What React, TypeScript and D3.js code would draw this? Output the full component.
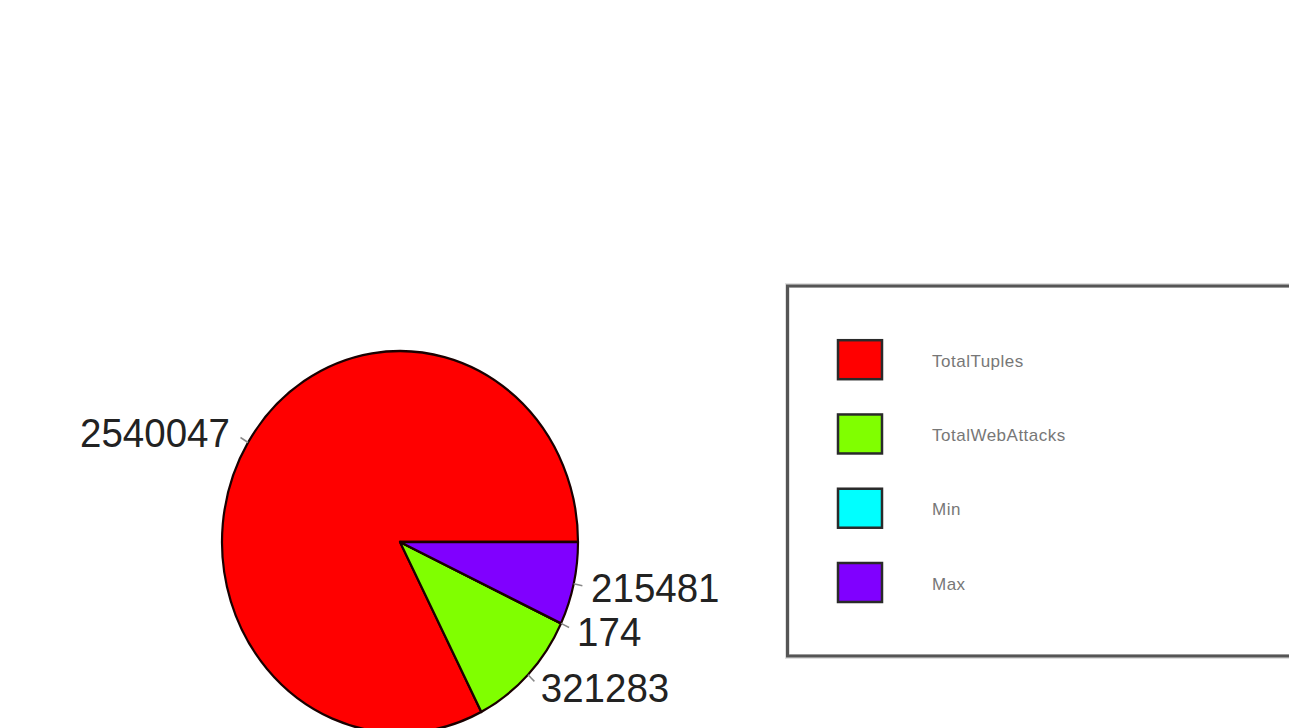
import React from "react";
import * as d3 from "d3";

const categories = ["TotalTuples", "TotalWebAttacks", "Min", "Max"];
const values = [2540047, 321283, 174, 215481];
const colors = ["#FF0000", "#80FF00", "#00FFFF", "#8000FF"];

const W = 1289;
const H = 728;
const cx = 400;
const cy = 542;
const r = 178;
const yStretch = 191 / 178;

export default function App() {
  const pie = d3
    .pie<number>()
    .sort(null)
    .startAngle(Math.PI / 2)
    .endAngle(Math.PI / 2 - 2 * Math.PI);
  const arcs = pie(values);
  const arcGen = d3.arc<d3.PieArcDatum<number>>().innerRadius(0).outerRadius(r);

  const legendY = d3
    .scalePoint<string>()
    .domain(categories)
    .range([359.7, 582.5]);

  return (
    <svg
      width={W}
      height={H}
      style={{ position: "absolute", left: 0, top: 0, background: "#fff" }}
      fontFamily="'Liberation Sans', Arial, sans-serif"
    >
      <g transform={`translate(${cx},${cy}) scale(1,${yStretch})`}>
        {arcs.map((a, i) => (
          <path
            key={i}
            d={arcGen(a) || ""}
            fill={colors[i]}
            stroke="#1a0000"
            strokeWidth={2.2}
            strokeLinejoin="round"
          />
        ))}
        {arcs.map((a, i) => {
          const mid = (a.startAngle + a.endAngle) / 2;
          const px = Math.sin(mid) * r;
          const py = -Math.cos(mid) * r;
          return (
            <g key={"l" + i}>
              <line
                x1={px}
                y1={py}
                x2={px * 1.05}
                y2={py * 1.05}
                stroke="#888"
                strokeWidth={1.5}
              />
              <text
                x={px * 1.1 + (px < 0 ? -3 : 0)}
                y={py * 1.1}
                textAnchor={px < 0 ? "end" : "start"}
                dominantBaseline="central"
                fontSize={38.5}
                fill="#222"
              >
                {values[i]}
              </text>
            </g>
          );
        })}
      </g>
      <rect
        x={787.5}
        y={285.5}
        width={700}
        height={371}
        fill="none"
        stroke="#e0e0e0"
        strokeWidth={5}
      />
      <rect
        x={787.5}
        y={286}
        width={700}
        height={370}
        fill="none"
        stroke="#555"
        strokeWidth={3}
      />
      {categories.map((c, i) => {
        const y = legendY(c) as number;
        return (
          <g key={"lg" + i}>
            <rect
              x={838}
              y={y - 19.5}
              width={44}
              height={39}
              fill={colors[i]}
              stroke="#2a2a2a"
              strokeWidth={2.5}
            />
            <text
              x={932}
              y={y + 1.5}
              dominantBaseline="central"
              fontSize={17}
              letterSpacing={0.5}
              fill="#777"
            >
              {c}
            </text>
          </g>
        );
      })}
    </svg>
  );
}
